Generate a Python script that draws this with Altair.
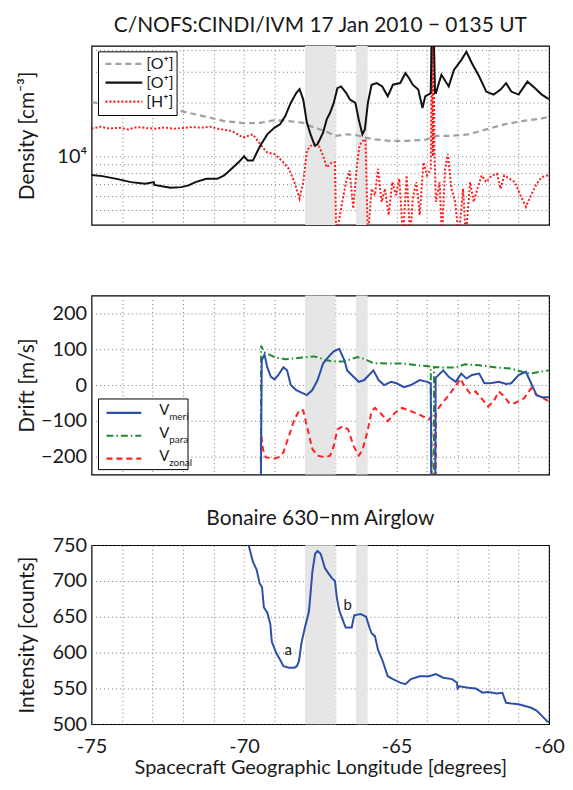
import altair as alt
import pandas as pd

FONT = "Lato"
INK = "#1a1a1a"

# ---------------- data ----------------
band_start = [-68.0, -66.33]
band_end = [-67.0, -65.95]

x_ticks = list(range(-75, -59))

# Density panel (cm^-3)
ni_lon = [-75.0, -74.41, -73.24, -72.06, -71.35, -70.65, -69.94, -69.47, -69.0, -68.53, -68.06,
          -67.71, -67.35, -67.0, -66.65, -66.29, -66.06, -65.71, -65.24, -64.65, -64.06, -63.71,
          -63.24, -62.65, -62.06, -61.47, -60.88, -60.29, -60.0]
ni_val = [20200, 19600, 18750, 17990, 16870, 15810, 15350, 15450, 16000, 15810, 15450,
          14520, 13900, 13030, 13300, 13150, 12760, 12470, 12220, 12220, 12390, 13030,
          13030, 13300, 14190, 15140, 15810, 16290, 16710]

o_lon = [-75.0, -74.65, -74.18, -73.71, -73.24, -72.96, -72.94, -72.41, -72.06, -71.82, -71.59,
         -71.24, -70.88, -70.65, -70.41, -70.18, -70.0, -69.88, -69.71, -69.47, -69.24, -69.0,
         -68.82, -68.65, -68.47, -68.29, -68.18, -68.06, -67.94, -67.82, -67.68, -67.59, -67.41,
         -67.29, -67.18, -67.06, -66.94, -66.82, -66.65, -66.53, -66.35, -66.24, -66.12, -66.04,
         -65.94, -65.82, -65.65, -65.47, -65.29, -65.12, -64.88, -64.71, -64.59, -64.47, -64.29,
         -64.15, -64.06, -63.88, -63.84, -63.79, -63.74, -63.71, -63.53, -63.29, -63.12, -62.88,
         -62.71, -62.53, -62.29, -62.06, -61.82, -61.59, -61.41, -61.24, -61.0, -60.71, -60.47,
         -60.24, -60.06, -60.0]
o_val = [7850, 7730, 7460, 7150, 7000, 7150, 6900, 6650, 6700, 6850, 7150,
         7460, 7460, 7800, 8500, 9250, 10000, 9460, 9460, 11470, 13300, 14520,
         15150, 16870, 20000, 22750, 23950, 20900, 15450, 13300, 11450, 11700, 13600,
         16150, 17600, 20000, 24250, 24800, 22750, 20900, 20000, 16150, 13300, 14190,
         20000, 25350, 25900, 24800, 21800, 25350, 25900, 29440, 27600, 25350, 23800,
         18750, 21800, 22750, 60000, 60000, 22750, 22750, 28840, 24800, 30700, 34900,
         38900, 33500, 28200, 23200, 22300, 23800, 25900, 23200, 22300, 26400, 24300,
         22300, 21300, 21000]

h_lon = [-75.0, -74.7, -74.4, -74.1, -73.8, -73.5, -73.2, -72.9, -72.6, -72.3, -72.0,
         -71.7, -71.4, -71.1, -70.88, -70.41, -70.04, -69.71, -69.47, -69.24, -69.0, -68.76,
         -68.53, -68.35, -68.18, -68.06, -67.94, -67.82, -67.68, -67.59, -67.41, -67.29, -67.12,
         -67.02, -66.98, -66.82, -66.66, -66.54, -66.42, -66.31, -66.22, -66.11, -66.02, -65.94,
         -65.82, -65.71, -65.61, -65.49, -65.38, -65.26, -65.14, -65.02, -64.91, -64.79, -64.67,
         -64.55, -64.47, -64.35, -64.24, -64.12, -64.0, -63.88, -63.84, -63.81, -63.79, -63.76,
         -63.71, -63.59, -63.51, -63.41, -63.32, -63.2, -63.08, -62.96, -62.82, -62.73, -62.59,
         -62.47, -62.35, -62.21, -62.06, -61.88, -61.71, -61.59, -61.47, -61.29, -61.12, -60.94,
         -60.76, -60.59, -60.41, -60.24, -60.06, -60.0]
h_val = [14320, 14690, 14320, 14510, 14190, 14620, 14450, 14320, 14550, 14320, 14450,
         14620, 14510, 14690, 14320, 13900, 12760, 13300, 11700, 10510, 10300, 9440,
         8490, 7150, 5770, 7150, 10740, 11460, 11700, 11970, 10070, 8670, 9250,
         9250, 3500, 5070, 7150, 8300, 5070, 8490, 11460, 12220, 12470, 3500,
         6560, 6030, 8490, 5530, 6560, 4660, 7150, 6030, 7460, 3500, 7800,
         3500, 5770, 7150, 4660, 9250, 7800, 8490, 60000, 10000, 60000, 10960,
         5530, 7150, 3500, 8490, 10300, 6560, 5530, 3500, 6560, 3500, 7150,
         5530, 6560, 7800, 7150, 7800, 7960, 6560, 7800, 7460, 7150, 6030,
         5190, 6030, 7000, 7620, 7800, 7800]

density_ticks = [5000, 6000, 7000, 8000, 9000, 10000, 20000, 30000, 40000]

# Drift panel (m/s); -300 marks the fill value plunging off the axis
meri_lon = [-69.45, -69.42, -69.33, -69.24, -69.12, -69.0, -68.88, -68.71, -68.59, -68.47, -68.29,
            -67.94, -67.76, -67.59, -67.41, -67.24, -67.06, -66.88, -66.71, -66.62, -66.47, -66.24,
            -66.06, -65.76, -65.59, -65.41, -65.18, -65.0, -64.76, -64.53, -64.24, -64.0, -63.88,
            -63.86, -63.73, -63.72, -63.47, -63.29, -63.06, -62.88, -62.71, -62.53, -62.29, -62.12,
            -61.88, -61.65, -61.41, -61.24, -61.0, -60.76, -60.59, -60.41, -60.24, -60.0]
meri_val = [-300, 69, 85, 50, 23, 16, 28, 50, 41, 0, -14,
            -28, -14, 14, 60, 78, 94, 101, 69, 41, 28, 9,
            14, 41, 14, 0, 9, 5, -6, 0, 14, 9, 5,
            -300, -300, 20, 41, 23, 9, 32, 18, 28, 32, 5,
            6, 9, 3, 5, 28, 37, 5, -28, -34, -34]

para_lon = [-69.45, -69.44, -69.35, -69.0, -68.65, -68.18, -67.71, -67.53, -67.29, -67.0, -66.76,
            -66.53, -66.29, -66.06, -65.76, -65.24, -64.76, -64.29, -63.88, -63.86, -63.78, -63.77,
            -63.47, -63.06, -62.76, -62.29, -61.71, -61.24, -60.88, -60.65, -60.29, -60.0]
para_val = [-300, 110, 92, 78, 72, 76, 80, 76, 69, 66, 66,
            71, 78, 73, 61, 60, 60, 55, 52, -300, -300, 50,
            49, 49, 58, 55, 49, 46, 37, 32, 37, 41]

zonal_lon = [-69.45, -69.44, -69.38, -69.29, -69.0, -68.88, -68.71, -68.53, -68.35, -68.18, -68.06,
             -67.94, -67.76, -67.59, -67.35, -67.18, -67.06, -66.94, -66.76, -66.59, -66.41, -66.24,
             -66.12, -65.94, -65.82, -65.71, -65.53, -65.29, -65.06, -64.82, -64.53, -64.24, -63.94,
             -63.86, -63.85, -63.72, -63.71, -63.59, -63.24, -63.0, -62.91, -62.76, -62.59, -62.41,
             -62.18, -62.0, -61.82, -61.65, -61.47, -61.29, -61.12, -60.82, -60.59, -60.41, -60.18,
             -60.0]
zonal_val = [-300, -138, -179, -202, -205, -202, -188, -142, -96, -69, -71,
             -115, -179, -197, -202, -197, -170, -124, -115, -124, -170, -197,
             -183, -124, -73, -64, -78, -101, -78, -64, -73, -83, -96,
             -87, -300, -300, -78, -60, -23, 5, 18, -5, -23, -18,
             -41, -60, -46, -18, -32, -52, -50, -37, -9, -28, -37,
             -46]

drift_ticks = [-200, -100, 0, 100, 200]

# Airglow panel (counts)
glow_lon = [-69.85, -69.71, -69.59, -69.49, -69.41, -69.35, -69.24, -69.14, -69.09, -68.94, -68.82,
            -68.71, -68.53, -68.35, -68.27, -68.2, -68.12, -68.0, -67.88, -67.85, -67.76, -67.67,
            -67.59, -67.49, -67.41, -67.35, -67.24, -67.12, -67.02, -66.96, -66.88, -66.76, -66.67,
            -66.47, -66.39, -66.18, -66.0, -65.88, -65.82, -65.71, -65.61, -65.47, -65.29, -65.12,
            -64.88, -64.71, -64.53, -64.24, -63.94, -63.71, -63.47, -63.18, -63.02, -63.0, -62.94,
            -62.65, -62.41, -62.18, -62.0, -61.71, -61.53, -61.41, -61.24, -61.0, -60.76, -60.59,
            -60.41, -60.24, -60.06, -60.0]
glow_val = [750, 727, 716, 697, 691, 663, 656, 640, 615, 599, 590,
            581, 579, 579, 581, 588, 613, 636, 656, 668, 713, 738,
            742, 738, 727, 718, 711, 704, 700, 677, 659, 645, 635,
            635, 652, 654, 650, 634, 627, 623, 604, 590, 567, 563,
            558, 556, 563, 567, 567, 570, 565, 563, 558, 550, 553,
            551, 550, 544, 545, 543, 544, 530, 529, 528, 525, 523,
            519, 512, 504, 503]

glow_ticks = [500, 550, 600, 650, 700, 750]

ann_lon = [-68.55, -66.6]
ann_val = [604, 666]
ann_text = ["a", "b"]

# ---------------- helpers ----------------
W, H = 460, 180
TXT = 21

x_scale = alt.Scale(domain=[-75, -60], nice=False, zero=False)


def x_axis(show_labels):
    kw = dict(values=x_ticks, grid=True, ticks=False, domain=False, title=None,
              labels=show_labels)
    if show_labels:
        kw.update(labelExpr="datum.value % 5 == 0 ? replace(datum.label, '\u2212', '-') : ''",
                  title="Spacecraft Geographic Longitude [degrees]", labelPadding=12,
                  titlePadding=2, labelFlush=False, labelFontSize=20, titleFontSize=20)
    return alt.Axis(**kw)


def bands(x_ax):
    d = pd.DataFrame({"start": band_start, "end": band_end})
    return alt.Chart(d).mark_rect(color="#e6e6e6").encode(
        x=alt.X("start:Q", scale=x_scale, axis=x_ax), x2="end:Q")


def line(lon, val, color, y_scale, y_axis, x_ax, dash=None, width=1.8):
    d = pd.DataFrame({"lon": lon, "val": val})
    kw = dict(color=color, strokeWidth=width, clip=True)
    if dash:
        kw["strokeDash"] = dash
    return alt.Chart(d).mark_line(**kw).encode(
        x=alt.X("lon:Q", scale=x_scale, axis=x_ax),
        y=alt.Y("val:Q", scale=y_scale, axis=y_axis))


def box(x0, x1, y0, y1):
    return alt.Chart(pd.DataFrame({"k": [0]})).mark_rect(
        fill="white", stroke="black", strokeWidth=1).encode(
        x=alt.value(x0), x2=alt.value(x1), y=alt.value(y0), y2=alt.value(y1))


def sym(label, color, dash, width, x0, x1, y):
    kw = dict(color=color, strokeWidth=width)
    if dash:
        kw["strokeDash"] = dash
    return alt.Chart(pd.DataFrame({"label": [label]})).mark_rule(**kw).encode(
        x=alt.value(x0), x2=alt.value(x1), y=alt.value(y))


def txt(label, x, y, size):
    return alt.Chart(pd.DataFrame({"label": [label]})).mark_text(
        align="left", baseline="middle", font=FONT, fontSize=size, color=INK).encode(
        x=alt.value(x), y=alt.value(y), text="label:N")


def y_axis(title, values, label_expr=None):
    kw = dict(values=values, grid=True, ticks=False, domain=False, title=title,
              titleX=-54, labelPadding=5)
    if label_expr:
        kw["labelExpr"] = label_expr
    return alt.Axis(**kw)


# ---------------- top: density ----------------
dens_scale = alt.Scale(type="log", domain=[4100, 42000], nice=False)
dens_axis = y_axis("Density [cm\u207b\u00b3]", density_ticks,
                   "datum.value == 10000 ? '10\u2074' : ''")
top_x = x_axis(False)

dens_entries = [("[O\u207a]", "#a0a0a0", [6, 4], 2.2),
                ("[O\u207a]", "#111111", None, 2.2),
                ("[H\u207a]", "#ff1a1a", [2, 2], 2.2)]
dens_legend = [box(7, 86, 6, 70)]
for (lab, col, dsh, wd), yy in zip(dens_entries, [18, 37, 56]):
    dens_legend.append(sym(lab, col, dsh, wd, 14, 51, yy))
    dens_legend.append(txt(lab, 55, yy, 16))

top = alt.layer(
    bands(top_x),
    line(ni_lon, ni_val, "#a0a0a0", dens_scale, dens_axis, top_x, dash=[6, 4], width=2.2),
    line(h_lon, h_val, "#ff1a1a", dens_scale, dens_axis, top_x, dash=[2, 2], width=2),
    line(o_lon, o_val, "#111111", dens_scale, dens_axis, top_x, width=2),
    *dens_legend,
).properties(width=W, height=H,
             title=alt.TitleParams("C/NOFS:CINDI/IVM 17 Jan 2010 \u2212 0135 UT",
                                   fontSize=TXT, font=FONT, fontWeight="normal",
                                   color=INK, offset=10))

# ---------------- middle: drift ----------------
drift_scale = alt.Scale(domain=[-250, 250], nice=False)
drift_axis = y_axis("Drift [m/s]", drift_ticks)
mid_x = x_axis(False)

drift_entries = [("meri", "#2c4fa8", None, 2.2),
                 ("para", "#1f8a2e", [7, 3, 1.5, 3], 2.2),
                 ("zonal", "#ff2020", [6, 4], 2.2)]
drift_legend = [box(7, 97, 104, 175)]
for (lab, col, dsh, wd), yy in zip(drift_entries, [118, 141, 164]):
    drift_legend.append(sym(lab, col, dsh, wd, 15, 50, yy))
    drift_legend.append(txt("V", 68, yy - 3, 15))
    drift_legend.append(txt(lab, 78, yy + 4, 10))

mid = alt.layer(
    bands(mid_x),
    line(para_lon, para_val, "#1f8a2e", drift_scale, drift_axis, mid_x, dash=[7, 3, 1.5, 3], width=2),
    line(zonal_lon, zonal_val, "#ff2020", drift_scale, drift_axis, mid_x, dash=[6, 4], width=2),
    line(meri_lon, meri_val, "#2c4fa8", drift_scale, drift_axis, mid_x, width=2),
    *drift_legend,
).properties(width=W, height=H)

# ---------------- bottom: airglow ----------------
glow_scale = alt.Scale(domain=[500, 750], nice=False, zero=False)
glow_axis = y_axis("Intensity [counts]", glow_ticks)
bot_x = x_axis(True)

ann = alt.Chart(pd.DataFrame({"lon": ann_lon, "val": ann_val, "t": ann_text})).mark_text(
    font=FONT, fontSize=15, color=INK).encode(
    x=alt.X("lon:Q", scale=x_scale, axis=bot_x),
    y=alt.Y("val:Q", scale=glow_scale, axis=glow_axis), text="t:N")

bot = alt.layer(
    bands(bot_x),
    line(glow_lon, glow_val, "#2c4fa8", glow_scale, glow_axis, bot_x, width=2),
    ann,
).properties(width=W, height=H,
             title=alt.TitleParams("Bonaire 630\u2212nm Airglow", fontSize=TXT, font=FONT,
                                   fontWeight="normal", color=INK, offset=6))

chart = alt.vconcat(top, mid, bot, spacing=71, bounds="flush").configure_view(
    stroke="black", strokeWidth=1.2
).configure_axis(
    labelFont=FONT, labelFontSize=20, labelColor=INK,
    titleFont=FONT, titleFontSize=TXT, titleFontWeight="normal", titleColor=INK,
    gridColor="#6a6a6a", gridDash=[1, 3], gridWidth=0.9
).properties(padding={"left": 8, "top": 4, "right": 0, "bottom": 1})

chart.save("out.html", embed_options={"renderer": "svg", "actions": False})
